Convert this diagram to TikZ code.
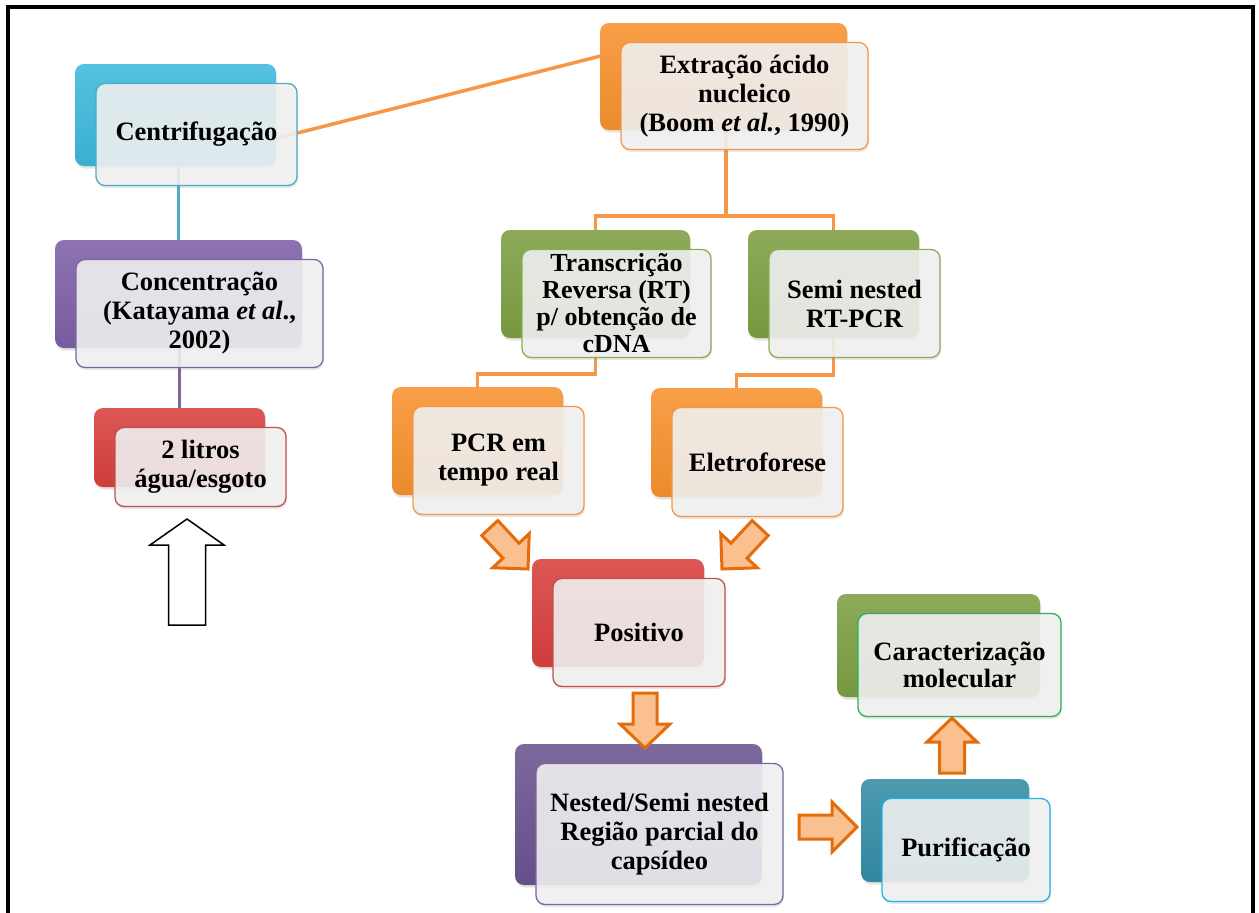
\documentclass[tikz,border=0pt]{standalone}
\usepackage{fontspec}
\setmainfont{Liberation Serif}
\usetikzlibrary{shadows,calc}
\pgfdeclarelayer{canvas}
\pgfdeclarelayer{bg}
\pgfsetlayers{canvas,bg,main}

\definecolor{cTeal}{HTML}{3DB9DC}
\definecolor{cTealLine}{HTML}{4BACC6}
\definecolor{cTealDk}{HTML}{348DA6}
\definecolor{cTealDkLine}{HTML}{1FB2E6}
\definecolor{cPurple}{HTML}{7E60A8}
\definecolor{cPurpleLine}{HTML}{8064A2}
\definecolor{cPurpleDk}{HTML}{6A5490}
\definecolor{cRed}{HTML}{D8403D}
\definecolor{cRedLine}{HTML}{C0504D}
\definecolor{cOrange}{HTML}{F7922F}
\definecolor{cOrangeLine}{HTML}{F79646}
\definecolor{cGreen}{HTML}{7D9F43}
\definecolor{cGreenLine}{HTML}{8AAE52}
\definecolor{cGreenBright}{HTML}{2EAF5E}
\definecolor{arrowFill}{HTML}{FAC090}
\definecolor{arrowLine}{HTML}{E46C0A}

\newcommand\stepfont{\bfseries\fontsize{26.5}{29}\selectfont}

\tikzset{
  backbox/.style={rectangle, rounded corners=9pt, inner sep=0pt, outer sep=0pt,
    top color=#1!88!white, middle color=#1, bottom color=#1!95!black,
    drop shadow={opacity=0.22, shadow xshift=1pt, shadow yshift=-2.5pt}},
  frontbox/.style={rectangle, rounded corners=9pt, inner sep=2pt, outer sep=0pt,
    draw=#1, line width=1.3pt, fill=white!95!black, fill opacity=0.88,
    text opacity=1, align=center, font=\stepfont,
    drop shadow={opacity=0.18, shadow xshift=1pt, shadow yshift=-2.5pt}},
  link/.style={line width=3.5pt, draw=#1},
  blockarrow/.style={fill=arrowFill, draw=arrowLine, line width=3pt, line join=miter},
  whitearrow/.style={fill=white, draw=black, line width=1.5pt, line join=miter},
  pics/barrow/.style n args={5}{code={%
    \draw[#1] (0,0) -- (-#3,#4) -- (-#3,#5) -- (-#2,#5) -- (-#2,-#5)
      -- (-#3,-#5) -- (-#3,-#4) -- cycle;}}
}

% name, back box corners (x1,y1,x2,y2), fill colour, border colour, extra options, text
\newcommand\mkstep[9]{%
  \node[backbox={#6}, minimum width={#4pt-#2pt}, minimum height={#5pt-#3pt}]
    (#1B) at ({(#2+#4)/2},{(#3+#5)/2}) {};
  \node[frontbox={#7}, minimum width={#4pt-#2pt}, minimum height={#5pt-#3pt}, #8]
    (#1) at ($(#1B.center)+(21,19.5)$) {#9};
}

\begin{document}
\begin{tikzpicture}[x=1pt, y=-1pt]
\useasboundingbox (0,0) rectangle (1259,913);
\begin{pgfonlayer}{canvas}
  \fill[white] (0,0) rectangle (1259,913);
\end{pgfonlayer}

% outer frame, open at the bottom
\draw[line width=4pt] (7.5,913) -- (7.5,6.5) -- (1253,6.5) -- (1253,913);

% steps
\mkstep{cen}{75}{64}{276}{166}{cTeal}{cTealLine}{}{Centrifugação}
\mkstep{con}{55}{240}{302}{348}{cPurple}{cPurpleLine}{}{Concentração\\(Katayama \textit{et al}.,\\2002)}
\mkstep{lit}{94}{408}{265}{487}{cRed}{cRedLine}{}{2 litros\\água/esgoto}
\mkstep{ext}{600}{23}{847}{130}{cOrange}{cOrangeLine}{}{Extração ácido\\nucleico\\(Boom \textit{et al.}, 1990)}
\mkstep{tra}{501}{230}{690}{338}{cGreen}{cGreenLine}{font=\bfseries\fontsize{26}{27}\selectfont}{Transcrição\\Reversa (RT)\\p/ obtenção de\\cDNA}
\mkstep{sem}{748}{230}{919}{338}{cGreen}{cGreenLine}{}{Semi nested\\RT-PCR}
\mkstep{pcr}{392}{387}{563}{495}{cOrange}{cOrangeLine}{}{PCR em\\tempo real}
\mkstep{ele}{651}{388}{822}{497}{cOrange}{cOrangeLine}{}{Eletroforese}
\mkstep{pos}{532}{559}{704}{667}{cRed}{cRedLine}{}{Positivo}
\mkstep{nes}{515}{744}{762}{885}{cPurpleDk}{cPurpleLine}{}{Nested/Semi nested\\Região parcial do\\capsídeo}
\mkstep{car}{837}{594}{1040}{697}{cGreen}{cGreenBright}{font=\bfseries\fontsize{26.5}{27.5}\selectfont}{Caracterização\\molecular}
\mkstep{pur}{861}{779}{1029}{882}{cTealDk}{cTealDkLine}{}{Purificação}

% tree connectors, kept behind the boxes
\coordinate (j1) at (726,216);
\coordinate (j2) at (0,374);
\coordinate (j3) at (0,375);
\begin{pgfonlayer}{bg}
  \draw[link=cOrangeLine] ($(cenB.south east)!0.27!(cenB.north east)$)
    -- ($(extB.north west)!0.31!(extB.south west)$);
  \draw[link=cTealLine] (cenB.center -| conB.north) -- (conB.north);
  \draw[link=cPurpleLine] (conB.center -| litB.north) -- (litB.north);
  \draw[link=cOrangeLine] (extB.center -| j1) -- (j1);
  \draw[link=cOrangeLine] (traB.north) |- (j1) -| (semB.north);
  \draw[link=cOrangeLine] (traB.center) |- (j2 -| pcrB.north) -- (pcrB.north);
  \draw[link=cOrangeLine] (semB.center) |- (j3 -| eleB.north) -- (eleB.north);
\end{pgfonlayer}

% block arrows (tip positions)
\coordinate (aPcr) at (528,569);
\coordinate (aEle) at (722,569);
\coordinate (aPos) at (645,748);
\coordinate (aNes) at (857,827);
\coordinate (aPur) at (952,718);
\coordinate (aIn)  at (187,519);
\pic[rotate=-47]  at (aPcr) {barrow={blockarrow}{56}{25}{25}{11}};
\pic[rotate=-133] at (aEle) {barrow={blockarrow}{56}{25}{25}{11}};
\pic[rotate=-90]  at (aPos) {barrow={blockarrow}{55}{24}{25}{12}};
\pic[rotate=0]    at (aNes) {barrow={blockarrow}{58}{25}{25}{12}};
\pic[rotate=90]   at (aPur) {barrow={blockarrow}{55}{24}{25}{12.5}};
\pic[rotate=90]   at (aIn)  {barrow={whitearrow}{106}{26}{37}{18.5}};
\end{tikzpicture}
\end{document}
